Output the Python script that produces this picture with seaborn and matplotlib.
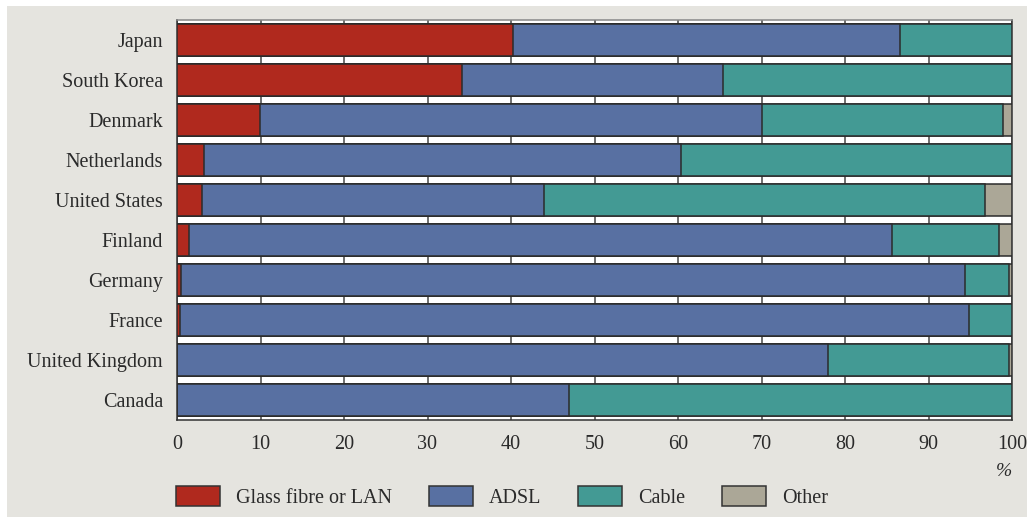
import matplotlib
matplotlib.use("Agg")
import matplotlib.pyplot as plt
from matplotlib.patches import Rectangle, Patch
import numpy as np
import pandas as pd
import seaborn as sns

# Broadband subscriptions by access technology, share in percent
countries = ["Japan", "South Korea", "Denmark", "Netherlands", "United States",
             "Finland", "Germany", "France", "United Kingdom", "Canada"]
fibre = [40.2, 34.1, 9.9, 3.2, 3.0, 1.4, 0.5, 0.3, 0.0, 0.0]
adsl = [46.4, 31.3, 60.2, 57.2, 41.0, 84.2, 93.9, 94.6, 78.0, 46.9]
cable = [13.4, 34.6, 28.8, 39.6, 52.8, 12.8, 5.3, 5.1, 21.7, 53.1]
other = [0.0, 0.0, 1.1, 0.0, 3.2, 1.6, 0.3, 0.0, 0.3, 0.0]

series_names = ["Glass fibre or LAN", "ADSL", "Cable", "Other"]
series_colors = ["#b0291e", "#5870a2", "#439a94", "#aba797"]
x_ticks = [0, 10, 20, 30, 40, 50, 60, 70, 80, 90, 100]

df = pd.DataFrame({"country": countries, "fibre": fibre, "adsl": adsl,
                   "cable": cable, "other": other})
# cumulative right edges, so that each layer can be drawn on top of the next
df["c_fibre"] = df["fibre"]
df["c_adsl"] = df["c_fibre"] + df["adsl"]
df["c_cable"] = df["c_adsl"] + df["cable"]
df["c_other"] = df["c_cable"] + df["other"]

sns.set_theme(style="white")
plt.rcParams["font.family"] = ["Liberation Serif", "DejaVu Serif"]

W, H = 1027, 517
fig = plt.figure(figsize=(W / 100, H / 100), dpi=100, facecolor="white")

# grey panel behind the chart
fig.patches.append(Rectangle((7 / W, 0), 1 - 7 / W, (H - 6) / H,
                             transform=fig.transFigure, facecolor="#e5e4df",
                             edgecolor="none", zorder=-10))

ax = fig.add_axes([177 / W, 1 - 420 / H, (1012 - 177) / W, 400 / H])
ax.set_facecolor("white")

edge = "#2b2b2b"
for col, color in zip(["c_other", "c_cable", "c_adsl", "c_fibre"],
                      series_colors[::-1]):
    sns.barplot(data=df, x=col, y="country", orient="h", color=color,
                saturation=1, width=0.8, edgecolor=edge, linewidth=1.1,
                ax=ax, zorder=3)

ax.set_xlim(0, 100)
ax.set_xticks(x_ticks)
ax.set_xticklabels([str(t) for t in x_ticks])
ax.set_xlabel("")
ax.set_ylabel("")
for t in x_ticks:
    ax.axvline(t, color="#555555", lw=1.2, zorder=1)

ax.tick_params(axis="x", length=0, pad=11, labelsize=14.5, labelcolor="#2a2a2a")
ax.tick_params(axis="y", length=0, pad=10, labelsize=14.5, labelcolor="#2a2a2a")
for side, sp in ax.spines.items():
    sp.set_visible(True)
    sp.set_color("#333333")
    sp.set_linewidth(1.1)
ax.spines["top"].set_color("#888888")

fig.text(1012 / W, 1 - 471.5 / H, "%", ha="right", va="center",
         fontsize=14, style="italic", color="#2a2a2a")

handles = [Patch(facecolor=c, edgecolor="#333333", linewidth=1.1)
           for c in series_colors]
fig.legend(handles, series_names, loc="center left",
           bbox_to_anchor=(176 / W, 1 - 497 / H), ncol=4, frameon=False,
           fontsize=14.5, handlelength=2.2, handleheight=1.15,
           handletextpad=0.8, columnspacing=1.8, borderpad=0,
           borderaxespad=0, labelcolor="#2a2a2a")

fig.savefig("out.png", dpi=100, facecolor="white")
